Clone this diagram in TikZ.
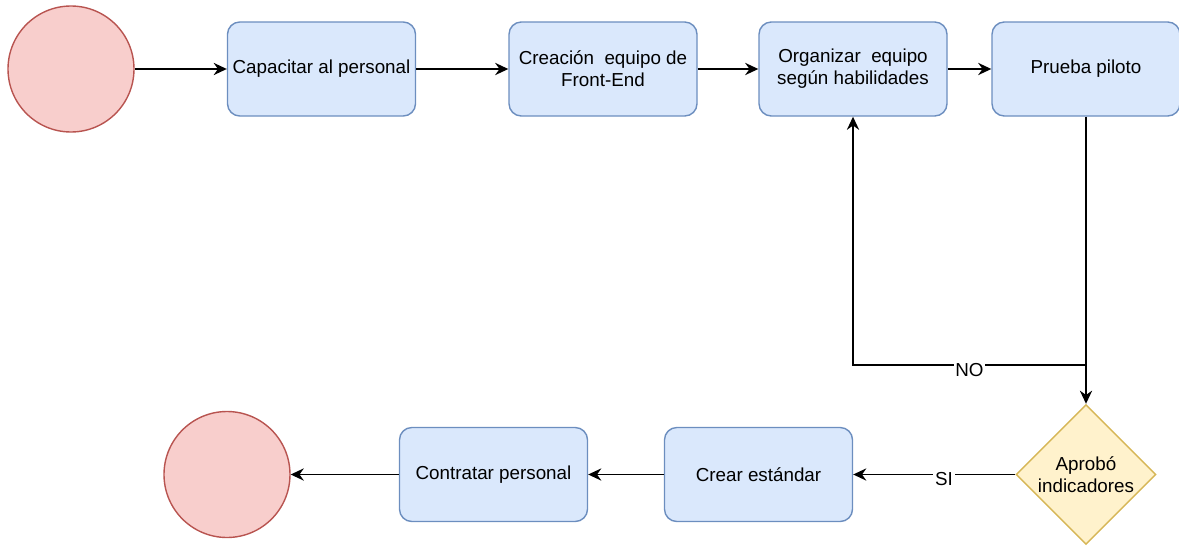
\documentclass[tikz,border=0pt]{standalone}
\usepackage{fontspec}
\setmainfont{Liberation Sans}
\usepackage{tikz}
\usetikzlibrary{arrows.meta,positioning,shapes.geometric}
\definecolor{BoxFill}{HTML}{DAE8FC}
\definecolor{BoxLine}{HTML}{6C8EBF}
\definecolor{EndFill}{HTML}{F8CECC}
\definecolor{EndLine}{HTML}{B85450}
\definecolor{AskFill}{HTML}{FFF2CC}
\definecolor{AskLine}{HTML}{D6B656}

\begin{document}
\begin{tikzpicture}[font=\fontsize{10.7}{12.6}\selectfont, >={Stealth[length=7.5pt,width=7pt,inset=2.5pt]}]
\tikzset{proc/.style={draw=BoxLine, line width=0.8pt, rounded corners=7pt, fill=BoxFill, align=center, minimum width=3.76cm, minimum height=1.88cm, inner sep=1pt}, term/.style={circle, draw=EndLine, line width=0.8pt, fill=EndFill, minimum size=2.52cm, inner sep=0pt}, ask/.style={diamond, draw=AskLine, line width=0.8pt, fill=AskFill, align=center, minimum width=2.8cm, minimum height=2.8cm, inner sep=0pt}, flow/.style={->, line width=0.8pt, black}, lbl/.style={fill=white, inner sep=1pt, yshift=-0.1cm}}
\useasboundingbox (0,0) rectangle (23.58,-10.94);
% top row
\node[term] (inicio) at (1.42,-1.38) {};
\node[proc] (capacitar) at (6.43,-1.38) {Capacitar al personal};
\node[proc] (creacion) at (12.06,-1.38) {Creación\ \ equipo de\\Front-End};
\node[proc] (organizar) at (17.06,-1.38) {Organizar\ \ equipo\\según habilidades};
\node[proc] (prueba) at (21.72,-1.38) {Prueba piloto};
% bottom row
\node[ask] (aprobo) at (21.72,-9.49) {Aprobó\\indicadores};
\node[proc] (crear) at (15.17,-9.49) {Crear estándar};
\node[proc] (contratar) at (9.87,-9.49) {Contratar personal};
\node[term] (fin) at (4.54,-9.49) {};
\coordinate (junta) at (21.72,-7.30);
\draw[flow] (inicio)--(capacitar); \draw[flow] (capacitar)--(creacion); \draw[flow] (creacion)--(organizar); \draw[flow] (organizar)--(prueba); \draw[flow] (prueba)--(aprobo);
\draw[flow] (junta) -| node[lbl, pos=0.25] {NO} (organizar.south);
\draw[flow] (aprobo)-- node[lbl, pos=0.44] {SI} (crear); \draw[flow] (crear)--(contratar); \draw[flow] (contratar)--(fin);
\end{tikzpicture}
\end{document}
